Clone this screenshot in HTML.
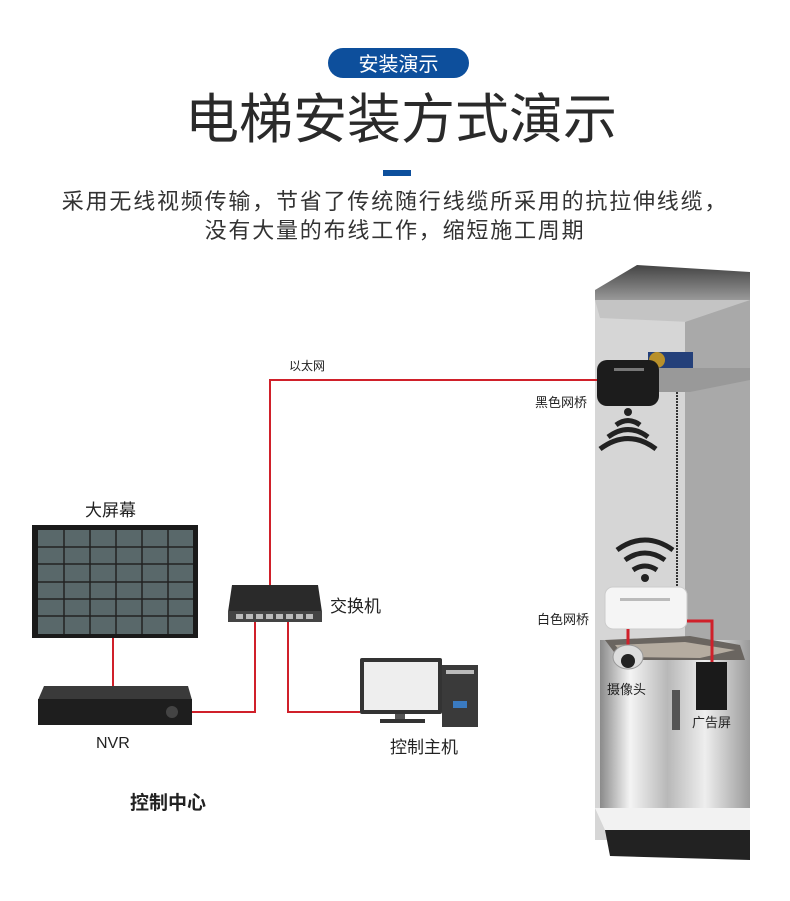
<!DOCTYPE html>
<html><head><meta charset="utf-8"><style>
body{margin:0;background:#fff;}
#w{position:relative;width:790px;height:901px;overflow:hidden;font-family:"Liberation Sans","Noto Sans CJK SC",sans-serif;}
.t{position:absolute;white-space:nowrap;color:#222;}
</style></head><body><div id="w">
<div style="position:absolute;left:328px;top:48px;width:141px;height:30px;border-radius:15px;background:#0d4f9c;color:#fff;font-size:20px;line-height:30px;text-align:center;font-family:'Noto Sans CJK SC',sans-serif;">安装演示</div>
<div class="t" style="left:185px;top:83px;font-size:54px;line-height:64px;color:#2a2a2a;font-family:'Noto Sans CJK SC',sans-serif;">电梯安装方式演示</div>
<div style="position:absolute;left:383px;top:170px;width:28px;height:6px;background:#0d4f9c;"></div>
<div class="t" style="left:0;width:790px;text-align:center;top:186px;font-size:22px;line-height:29px;letter-spacing:1.8px;color:#333;font-family:'Noto Sans CJK SC',sans-serif;">采用无线视频传输，节省了传统随行线缆所采用的抗拉伸线缆，<br>没有大量的布线工作，缩短施工周期</div>

<svg width="790" height="901" style="position:absolute;left:0;top:0" xmlns="http://www.w3.org/2000/svg">
<defs>
<linearGradient id="car" x1="0" x2="1"><stop offset="0" stop-color="#8a8a8a"/><stop offset="0.2" stop-color="#f4f4f4"/><stop offset="0.45" stop-color="#b8b8b8"/><stop offset="0.7" stop-color="#eee"/><stop offset="1" stop-color="#9a9a9a"/></linearGradient>
<linearGradient id="cap" x1="0" y1="0" x2="0" y2="1"><stop offset="0" stop-color="#444"/><stop offset="1" stop-color="#999"/></linearGradient>
</defs>
<polygon points="595,290 637,265 750,272 750,300 595,300" fill="url(#cap)"/>
<rect x="595" y="300" width="155" height="540" fill="#d6d6d6"/>
<polygon points="595,300 750,300 690,322 600,318" fill="#c4c4c4"/>
<polygon points="685,322 750,300 750,830 685,810" fill="#a9a9a9"/>
<polygon points="640,368 750,368 750,380 690,392 640,392" fill="#999"/>
<rect x="648" y="352" width="45" height="16" fill="#24407a"/>
<circle cx="657" cy="360" r="8" fill="#b8902a"/>
<line x1="677" y1="392" x2="677" y2="587" stroke="#333" stroke-width="2" stroke-dasharray="2,1"/>
<rect x="597" y="360" width="62" height="46" rx="10" fill="#1c1c1c"/>
<rect x="614" y="368" width="30" height="3" fill="#777"/>
<g fill="none" stroke="#222" stroke-width="5">
<path d="M616,425 Q628,416 640,425"/><path d="M608,437 Q628,422 648,437"/><path d="M600,449 Q628,428 656,449"/>
</g>
<circle cx="628" cy="412" r="4" fill="#222"/>
<g fill="none" stroke="#222" stroke-width="5">
<path d="M617,550 Q645,530 673,550"/><path d="M625,560 Q645,546 665,560"/><path d="M633,570 Q645,562 657,570"/>
</g>
<circle cx="645" cy="578" r="4" fill="#222"/>
<rect x="600" y="640" width="150" height="168" fill="url(#car)"/>
<polygon points="605,640 690,636 740,645 745,660 620,660" fill="#6a6560"/>
<polygon points="615,645 685,642 735,650 700,658 625,657" fill="#b5aca0"/>
<rect x="672" y="690" width="8" height="40" fill="#555"/>
<polygon points="595,808 750,808 750,830 605,830" fill="#f2f2f2"/>
<polygon points="605,830 750,830 750,860 610,856" fill="#222"/>
<rect x="605" y="587" width="82" height="42" rx="8" fill="#f5f5f5" stroke="#ccc"/>
<rect x="620" y="598" width="50" height="3" fill="#bbb"/>
<polyline points="687,621 712,621 712,662" fill="none" stroke="#d0202a" stroke-width="3"/>
<line x1="628" y1="629" x2="628" y2="648" stroke="#d0202a" stroke-width="3"/>
<ellipse cx="628" cy="657" rx="15" ry="12" fill="#ddd" stroke="#999"/>
<circle cx="628" cy="661" r="7" fill="#222"/>
<rect x="696" y="662" width="31" height="48" fill="#1a1a1a"/>
<g fill="none" stroke="#d0202a" stroke-width="2">
<polyline points="597,380 270,380 270,588"/>
<line x1="113" y1="638" x2="113" y2="688"/>
<polyline points="192,712 255,712 255,621"/>
<polyline points="288,621 288,712 360,712"/>
</g>
<rect x="32" y="525" width="166" height="113" fill="#1a1a1a"/>
<rect x="38" y="530" width="155" height="104" fill="#59686a"/>
<g stroke="#222" stroke-width="1.5">
<line x1="64" y1="530" x2="64" y2="634"/><line x1="90" y1="530" x2="90" y2="634"/><line x1="116" y1="530" x2="116" y2="634"/><line x1="142" y1="530" x2="142" y2="634"/><line x1="168" y1="530" x2="168" y2="634"/>
<line x1="38" y1="547" x2="193" y2="547"/><line x1="38" y1="564" x2="193" y2="564"/><line x1="38" y1="582" x2="193" y2="582"/><line x1="38" y1="599" x2="193" y2="599"/><line x1="38" y1="616" x2="193" y2="616"/>
</g>
<polygon points="232,585 318,585 322,612 228,612" fill="#2a2a2a"/>
<rect x="228" y="611" width="94" height="11" fill="#444"/>
<g fill="#bbb"><rect x="236" y="614" width="7" height="5"/><rect x="246" y="614" width="7" height="5"/><rect x="256" y="614" width="7" height="5"/><rect x="266" y="614" width="7" height="5"/><rect x="276" y="614" width="7" height="5"/><rect x="286" y="614" width="7" height="5"/><rect x="296" y="614" width="7" height="5"/><rect x="306" y="614" width="7" height="5"/></g>
<polygon points="44,686 188,686 192,700 38,700" fill="#3a3a3a"/>
<rect x="38" y="699" width="154" height="26" fill="#1e1e1e"/>
<circle cx="172" cy="712" r="6" fill="#444"/>
<rect x="360" y="658" width="82" height="56" rx="2" fill="#333"/>
<rect x="364" y="662" width="74" height="48" fill="#eee"/>
<rect x="395" y="714" width="10" height="6" fill="#555"/>
<rect x="380" y="719" width="45" height="4" fill="#333"/>
<rect x="442" y="665" width="36" height="62" fill="#3a3a3a"/>
<rect x="446" y="670" width="28" height="4" fill="#bbb"/>
<rect x="453" y="701" width="14" height="7" fill="#3a7ac0"/>
</svg>

<div class="t" style="left:289px;top:357px;font-size:12px;">以太网</div>
<div class="t" style="left:535px;top:392px;font-size:13px;">黑色网桥</div>
<div class="t" style="left:537px;top:609px;font-size:13px;">白色网桥</div>
<div class="t" style="left:607px;top:679px;font-size:13px;">摄像头</div>
<div class="t" style="left:692px;top:712px;font-size:13px;">广告屏</div>
<div class="t" style="left:85px;top:496px;font-size:17px;">大屏幕</div>
<div class="t" style="left:330px;top:592px;font-size:17px;">交换机</div>
<div class="t" style="left:96px;top:735px;font-size:16px;">NVR</div>
<div class="t" style="left:390px;top:733px;font-size:17px;">控制主机</div>
<div class="t" style="left:130px;top:788px;font-size:19px;font-weight:bold;">控制中心</div>
</div></body></html>
